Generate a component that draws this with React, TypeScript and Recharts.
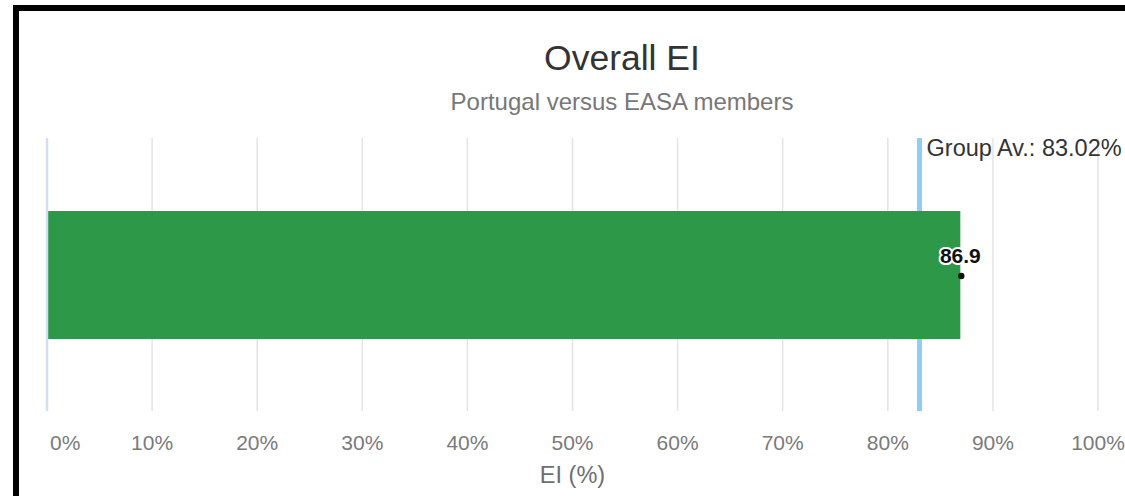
import React from "react";
import {
  BarChart,
  Bar,
  XAxis,
  YAxis,
  CartesianGrid,
  ReferenceLine,
  LabelList,
} from "recharts";

const categories = ["Portugal"];
const eiValues = [86.9];
const groupAverage = 83.02;
const xTicks = [0, 10, 20, 30, 40, 50, 60, 70, 80, 90, 100];
const titleText = "Overall EI";
const subtitleText = "Portugal versus EASA members";
const axisTitle = "EI (%)";

const data = categories.map((c, i) => ({ name: c, ei: eiValues[i] }));

const FONT = "'Liberation Sans', Arial, Helvetica, sans-serif";

const Tick = (props: any) => {
  const { x, y, payload, index } = props;
  const first = index === 0;
  return (
    <text
      x={first ? x + 3 : x}
      y={y}
      dy={39}
      textAnchor={first ? "start" : "middle"}
      fill="#7a7a7a"
      fontSize={21}
      fontFamily={FONT}
    >
      {payload.value + "%"}
    </text>
  );
};

const ValueLabel = (props: any) => {
  const { x, y, width, height, value } = props;
  const ex = x + width;
  const cy = y + height / 2;
  return (
    <g>
      <text
        x={ex}
        y={cy - 12}
        textAnchor="middle"
        fontSize={21}
        fontWeight="bold"
        fontFamily={FONT}
        fill="#111"
        stroke="#fff"
        strokeWidth={4}
        strokeLinejoin="round"
        style={{ paintOrder: "stroke" }}
      >
        {value}
      </text>
      <circle cx={ex + 1} cy={cy + 1} r={3.2} fill="#111" />
    </g>
  );
};

const AvgLabel = (props: any) => {
  const { viewBox } = props;
  const x = viewBox.x;
  const y = viewBox.y;
  return (
    <text
      x={x + 7}
      y={y + 18}
      fontSize={23.5}
      fontFamily={FONT}
      fill="#333"
    >
      {"Group Av.: " + groupAverage.toFixed(2) + "%"}
    </text>
  );
};

export default function App() {
  return (
    <div
      style={{
        position: "absolute",
        left: 0,
        top: 0,
        width: 1125,
        height: 496,
        background: "#fff",
        overflow: "hidden",
      }}
    >
      <div
        style={{
          position: "absolute",
          left: 13,
          top: 5,
          width: 1112,
          height: 491,
          boxSizing: "border-box",
          borderTop: "6px solid #000",
          borderLeft: "6px solid #000",
        }}
      />
      <svg
        width={1125}
        height={130}
        style={{ position: "absolute", left: 0, top: 0 }}
      >
        <text
          x={622}
          y={70}
          textAnchor="middle"
          fontSize={35.5}
          fontFamily={FONT}
          fill="#333"
        >
          {titleText}
        </text>
        <text
          x={622}
          y={110}
          textAnchor="middle"
          fontSize={24}
          fontFamily={FONT}
          fill="#777"
        >
          {subtitleText}
        </text>
      </svg>
      <div style={{ position: "absolute", left: 0, top: 0 }}>
        <BarChart
          width={1125}
          height={496}
          data={data}
          layout="vertical"
          margin={{ top: 138, right: 27, bottom: 0, left: 47 }}
        >
          <CartesianGrid horizontal={false} stroke="#e4e4e4" strokeWidth={1.5} />
          <XAxis
            type="number"
            domain={[0, 100]}
            ticks={xTicks}
            interval={0}
            height={85}
            axisLine={false}
            tickLine={false}
            tickSize={0}
            tickMargin={0}
            tick={<Tick />}
            label={{
              value: axisTitle,
              position: "insideBottom",
              offset: 13,
              fontSize: 23.5,
              fontFamily: FONT,
              fill: "#6e6e6e",
            }}
          />
          <YAxis type="category" dataKey="name" hide />
          <ReferenceLine x={0} stroke="#d4dff5" strokeWidth={2.5} />
          <ReferenceLine
            x={groupAverage}
            stroke="#90cdf4"
            strokeWidth={5}
            zIndex={250}
            label={<AvgLabel />}
          />
          <Bar
            dataKey="ei"
            fill="#2e9849"
            barSize={128}
            isAnimationActive={false}
          >
            <LabelList dataKey="ei" content={<ValueLabel />} />
          </Bar>
        </BarChart>
      </div>
    </div>
  );
}
